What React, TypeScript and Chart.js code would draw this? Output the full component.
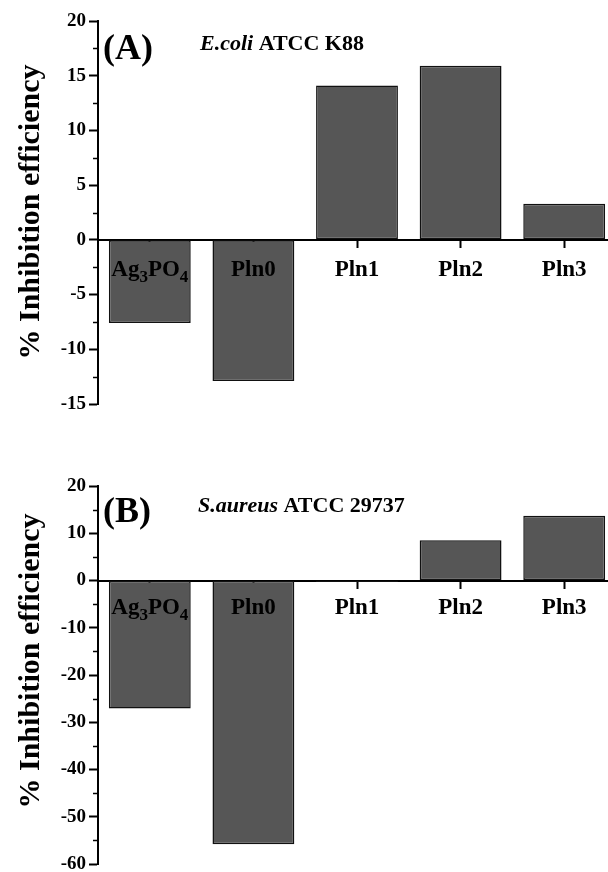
import { useEffect, useRef } from "react";
import { Chart, registerables } from "chart.js";

Chart.register(...registerables);

const categories = ["Ag₃PO₄", "Pln0", "Pln1", "Pln2", "Pln3"];
const ecoliValues = [-7.6, -12.9, 14.1, 15.9, 3.3];
const saureusValues = [-27.1, -55.8, -0.3, 8.5, 13.7];
const ecoliAxis = [-15, 20, 5];
const saureusAxis = [-60, 20, 10];
const yTitle = "% Inhibition efficiency";
const ecoliCaption = ["E.coli", " ATCC K88"];
const saureusCaption = ["S.aureus", " ATCC 29737"];
const panelLetters = ["(A)", "(B)"];

const SERIF = "'Liberation Serif', 'Times New Roman', serif";
const SUBS = "₀₁₂₃₄₅₆₇₈₉";

function drawCategoryLabel(ctx: CanvasRenderingContext2D, text: string, cx: number, baseline: number) {
  const big = `bold 23px ${SERIF}`;
  const small = `bold 17px ${SERIF}`;
  const parts: { t: string; sub: boolean }[] = [];
  for (const ch of text) {
    const idx = SUBS.indexOf(ch);
    const sub = idx >= 0;
    const t = sub ? String(idx) : ch;
    const last = parts[parts.length - 1];
    if (last && last.sub === sub) last.t += t;
    else parts.push({ t, sub });
  }
  let total = 0;
  for (const p of parts) {
    ctx.font = p.sub ? small : big;
    total += ctx.measureText(p.t).width;
  }
  let x = cx - total / 2;
  ctx.textAlign = "left";
  ctx.textBaseline = "alphabetic";
  for (const p of parts) {
    ctx.font = p.sub ? small : big;
    ctx.fillText(p.t, x, baseline + (p.sub ? 6 : 0));
    x += ctx.measureText(p.t).width;
  }
}

const annotatePlugin = {
  id: "annot",
  afterDraw(chart: any, _args: any, opts: any) {
    const ctx: CanvasRenderingContext2D = chart.ctx;
    const xs = chart.scales.x;
    const ys = chart.scales.y;
    const area = chart.chartArea;
    ctx.save();
    ctx.strokeStyle = "#000";
    ctx.fillStyle = "#000";
    ctx.lineWidth = 1.5;
    for (let v = ys.min + opts.step / 2; v < ys.max; v += opts.step) {
      const py = Math.round(ys.getPixelForValue(v)) + 0.5;
      ctx.beginPath();
      ctx.moveTo(area.left - 5, py);
      ctx.lineTo(area.left, py);
      ctx.stroke();
    }
    const zero = ys.getPixelForValue(0);
    categories.forEach((c, i) => {
      drawCategoryLabel(ctx, c, xs.getPixelForValue(i), zero + opts.labelOffset);
    });
    ctx.save();
    ctx.translate(opts.titleX, opts.titleY);
    ctx.rotate(-Math.PI / 2);
    ctx.font = `bold 30px ${SERIF}`;
    ctx.textAlign = "center";
    ctx.textBaseline = "middle";
    ctx.fillText(yTitle, 0, 0);
    ctx.restore();
    ctx.font = `bold 36px ${SERIF}`;
    ctx.textAlign = "left";
    ctx.textBaseline = "middle";
    ctx.fillText(opts.letter, area.left + 5, area.top + opts.letterDy);
    ctx.textBaseline = "alphabetic";
    let x = opts.captionX;
    const cy = area.top + opts.captionDy;
    opts.caption.forEach((t: string, i: number) => {
      ctx.font = i === 0 ? `italic bold 22px ${SERIF}` : `bold 22px ${SERIF}`;
      ctx.fillText(t, x, cy);
      x += ctx.measureText(t).width;
    });
    ctx.restore();
  },
};

type PanelProps = {
  values: number[];
  axis: number[];
  top: number;
  height: number;
  padTop: number;
  padBottom: number;
  annot: any;
};

function Panel({ values, axis, top, height, padTop, padBottom, annot }: PanelProps) {
  const ref = useRef<HTMLCanvasElement>(null);
  useEffect(() => {
    const chart = new Chart(ref.current!, {
      type: "bar",
      data: {
        labels: categories,
        datasets: [
          {
            data: values,
            backgroundColor: "#565656",
            borderColor: "#111",
            borderWidth: 1.5,
            borderSkipped: false,
            barPercentage: 0.79,
            categoryPercentage: 1,
          },
        ],
      },
      options: {
        animation: false,
        responsive: false,
        layout: { padding: { top: padTop, bottom: padBottom, left: 0, right: 0 } },
        plugins: {
          legend: { display: false },
          tooltip: { enabled: false },
          annot: { ...annot, step: axis[2] },
        } as any,
        scales: {
          x: {
            type: "category",
            position: { y: 0 } as any,
            z: 1,
            offset: true,
            grid: {
              display: true,
              drawOnChartArea: false,
              offset: false,
              tickLength: 7,
              tickWidth: 2,
              tickColor: "#000",
            },
            border: { display: true, color: "#000", width: 2 },
            ticks: { display: false },
          },
          y: {
            min: axis[0],
            max: axis[1],
            ticks: {
              stepSize: axis[2],
              color: "#000",
              padding: 3,
              font: { family: SERIF, weight: "bold", size: 19 },
            },
            grid: {
              drawOnChartArea: false,
              tickLength: 9,
              tickWidth: 2,
              tickColor: "#000",
            },
            border: { color: "#000", width: 2 },
            afterFit: (s: any) => {
              s.width = 98;
            },
          },
        },
      },
      plugins: [annotatePlugin],
    });
    return () => chart.destroy();
  }, []);
  return (
    <canvas
      ref={ref}
      width={616}
      height={height}
      style={{ position: "absolute", left: 0, top, width: 616, height }}
    />
  );
}

export default function App() {
  return (
    <div
      style={{
        position: "absolute",
        left: 0,
        top: 0,
        width: 608,
        height: 872,
        overflow: "hidden",
        background: "#fff",
      }}
    >
      <Panel
        values={ecoliValues}
        axis={ecoliAxis}
        top={0}
        height={440}
        padTop={21}
        padBottom={36}
        annot={{
          labelOffset: 36,
          titleX: 31,
          titleY: 212,
          letter: panelLetters[0],
          letterDy: 29,
          caption: ecoliCaption,
          captionX: 200,
          captionDy: 29,
        }}
      />
      <Panel
        values={saureusValues}
        axis={saureusAxis}
        top={440}
        height={440}
        padTop={46}
        padBottom={16}
        annot={{
          labelOffset: 33,
          titleX: 31,
          titleY: 221,
          letter: panelLetters[1],
          letterDy: 27,
          caption: saureusCaption,
          captionX: 198,
          captionDy: 26,
        }}
      />
    </div>
  );
}
